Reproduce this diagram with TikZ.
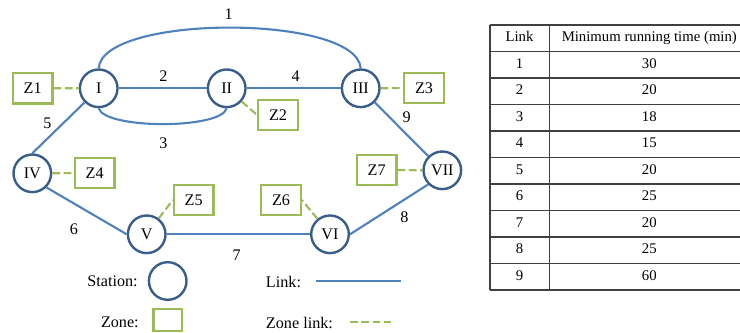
\documentclass[tikz,border=0pt]{standalone}
\usepackage{fontspec}
\setmainfont{Liberation Serif}
\usetikzlibrary{shapes.geometric, arrows}
\definecolor{stationblue}{HTML}{385D8A}
\definecolor{linkblue}{HTML}{4F81BD}
\definecolor{zonegreen}{HTML}{9BBB59}
\definecolor{tablegray}{HTML}{404040}

\begin{document}
\begin{tikzpicture}[x=0.025cm, y=-0.025cm]
\tikzstyle{station} = [circle, minimum size=0.94cm, inner sep=0pt, draw=stationblue, line width=1.7pt, font=\fontsize{11.5}{13}\selectfont]
\tikzstyle{zone} = [rectangle, minimum width=0.99cm, minimum height=0.76cm, inner sep=0pt, draw=zonegreen, line width=1.6pt, font=\fontsize{11.5}{13}\selectfont]
\tikzstyle{link} = [draw=linkblue, line width=1.5pt]
\tikzstyle{zonelink} = [draw=zonegreen, line width=1.5pt, dash pattern=on 5.5pt off 2.5pt]
\tikzstyle{lbl} = [inner sep=0pt, font=\fontsize{11.5}{13}\selectfont]
\tikzstyle{cell} = [inner sep=0pt, text height=0.7em, text depth=0.2em, font=\fontsize{10.5}{12}\selectfont]
\tikzstyle{tableline} = [draw=tablegray, line width=1pt]

\useasboundingbox (0,0) rectangle (740,333);

% stations
\node (I) [station] at (98.7,88.3) {I};
\node (II) [station] at (226.7,88.3) {II};
\node (III) [station] at (360.7,88.3) {III};
\node (IV) [station] at (32.3,173.3) {IV};
\node (V) [station] at (146.7,234.3) {V};
\node (VI) [station] at (330,234.3) {VI};
\node (VII) [station] at (442.3,170.3) {VII};

% zones
\node (Z1) [zone] at (32.7,88.2) {Z1};
\node (Z2) [zone] at (278,115) {Z2};
\node (Z3) [zone] at (424,88) {Z3};
\node (Z4) [zone] at (94.7,173) {Z4};
\node (Z5) [zone] at (193.7,200) {Z5};
\node (Z6) [zone] at (281,200) {Z6};
\node (Z7) [zone] at (376.7,170) {Z7};

% links
\draw [link] (I.north) .. controls (102,14) and (357,14) .. node[lbl, midway, shift={(-1,-13)}] (l1) {1} (III.north);
\draw [link] (I.east) -- node[lbl, midway, shift={(0.6,-12.3)}] (l2) {2} (II.west);
\draw [link] (I.south) .. controls (105,129.4) and (221,129.4) .. node[lbl, midway, shift={(0.6,18.7)}] (l3) {3} (II.south);
\draw [link] (II.east) -- node[lbl, midway, shift={(2,-12.3)}] (l4) {4} (III.west);
\draw [link] (I.225) -- node[lbl, midway, shift={(-10.9,-4.7)}] (l5) {5} (IV.north);
\draw [link] (IV.-45) -- node[lbl, midway, shift={(-12.7,18.6)}] (l6) {6} (V.west);
\draw [link] (V.east) -- node[lbl, midway, shift={(-1.6,20.7)}] (l7) {7} (VI.west);
\draw [link] (VI.east) -- node[lbl, midway, shift={(15.3,8.1)}] (l8) {8} (VII.225);
\draw [link] (III.-45) -- node[lbl, midway, shift={(5.2,-11.6)}] (l9) {9} (VII.135);

% zone links
\draw [zonelink] (Z1.east) -- (I.west);
\draw [zonelink] (II) -- (Z2.west);
\draw [zonelink] (III.east) -- (Z3.west);
\draw [zonelink] (IV.east) -- (Z4.west);
\draw [zonelink] (V) -- (Z5.west);
\draw [zonelink] (VI) -- (Z6.east);
\draw [zonelink] (Z7.east) -- (VII.west);

% legend
\node (stationtxt) [lbl, anchor=east] at (138,281) {Station:};
\node (stationkey) [station] at (167.7,281) {};
\node (zonetxt) [lbl, anchor=east] at (139,322.7) {Zone:};
\node (zonekey) [zone, minimum width=0.71cm, minimum height=0.56cm] at (167.7,320) {};
\node (linktxt) [lbl, anchor=west] at (265.7,282) {Link:};
\coordinate (linkA) at (316,281);
\coordinate (linkB) at (401,281);
\draw [link] (linkA) -- (linkB);
\node (zonelinktxt) [lbl, anchor=west] at (265.7,322.7) {Zone link:};
\coordinate (zlinkA) at (350,321.7);
\coordinate (zlinkB) at (391,321.7);
\draw [zonelink] (zlinkA) -- (zlinkB);

% table
\foreach \k in {0,...,10}
  \draw [tableline] (490,{25+26.5*\k}) -- (740,{25+26.5*\k});
\draw [tableline] (490,25) -- (490,290);
\draw [tableline] (549.3,25) -- (549.3,290);
\node (hlink) [cell] at (519.5,38.3) {Link};
\node (htime) [cell] at (649.3,38.3) {Minimum running time (min)};
\foreach \n/\t in {1/30, 2/20, 3/18, 4/15, 5/20, 6/25, 7/20, 8/25, 9/60} {
  \node (link\n) [cell] at (519.5,{38.25+26.5*\n}) {\n};
  \node (time\n) [cell] at (649.3,{38.25+26.5*\n}) {\t};
}
\end{tikzpicture}
\end{document}
